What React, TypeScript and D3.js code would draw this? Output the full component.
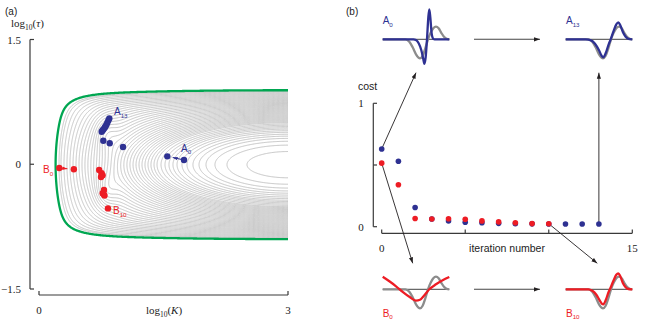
import React, { useMemo } from 'react';
import * as d3 from 'd3';

const W = 671;
const H = 328;

// ---------- Panel (a) data ----------
// left-most position (log10 K, at log10 tau ~ 0) of each grey cost contour
const contourVertexLogK = [
  2.506, 2.265, 2.12, 2.012, 1.928, 1.855, 1.783, 1.723, 1.663, 1.614, 1.566, 1.518,
  1.47, 1.422, 1.386, 1.349, 1.313, 1.277, 1.241, 1.205, 1.169, 1.133, 1.096, 1.06,
  1.024, 0.988, 0.952, 0.916, 0.88, 0.843, 0.807, 0.771, 0.735, 0.699, 0.663, 0.627,
  0.59, 0.554, 0.518, 0.482, 0.446, 0.41, 0.373, 0.337, 0.301, 0.265, 0.241,
];
// stability boundary (green): left-most log10 K, top and bottom log10 tau
const boundaryLeftLogK = 0.2;
const boundaryTopLogTau = 0.89;
const boundaryBottomLogTau = -0.9;
// valleys of the cost surface near the converged points
const valleyLogK = [0.79, 0.79];
const valleyLogTau = [0.42, -0.36];

// optimisation paths (log10 K, log10 tau)
const pathALogK = [1.747, 1.546, 1.012, 0.852, 0.775, 0.755, 0.765, 0.775, 0.789, 0.799, 0.811, 0.823, 0.835, 0.847];
const pathALogTau = [0.051, 0.095, 0.207, 0.252, 0.283, 0.391, 0.406, 0.418, 0.436, 0.454, 0.472, 0.5, 0.526, 0.55];
const pathBLogK = [0.244, 0.42, 0.725, 0.754, 0.766, 0.747, 0.783, 0.767, 0.789, 0.777, 0.831];
const pathBLogTau = [-0.045, -0.061, -0.069, -0.109, -0.133, -0.153, -0.309, -0.349, -0.376, -0.358, -0.531];

// ---------- Panel (b) data ----------
const costA = [0.63, 0.53, 0.155, 0.062, 0.046, 0.036, 0.033, 0.027, 0.024, 0.023, 0.022, 0.022, 0.022, 0.022];
const costB = [0.515, 0.34, 0.066, 0.063, 0.064, 0.06, 0.047, 0.039, 0.032, 0.025, 0.024];

// waveforms (t normalised 0..1, amplitude in arbitrary units)
const greyT = [0, 0.34, 0.4, 0.45, 0.5, 0.54, 0.56, 0.6, 0.64, 0.68, 0.72, 0.76, 0.8, 0.84, 0.88, 0.92, 0.96, 1];
const greyV = [0, 0, -2.5, -8, -15, -18.5, -19, -16.5, -9, 0, 6.5, 11, 12.6, 11, 6.5, 2.5, 0.5, 0];
const a0T = [0, 0.46, 0.5, 0.54, 0.58, 0.61, 0.625, 0.645, 0.665, 0.685, 0.7, 0.715, 0.735, 0.76, 0.78, 1];
const a0V = [0, 0, -0.8, -4, -11, -20, -24.5, -18, 0, 22, 30, 22, 6, 0.5, 0, 0];
const a13T = [0, 0.3, 0.38, 0.44, 0.5, 0.54, 0.565, 0.6, 0.64, 0.675, 0.72, 0.76, 0.79, 0.82, 0.86, 0.9, 0.94, 1];
const a13V = [0, 0, -1, -4.5, -11, -16.5, -18, -14, -6, 0, 8.5, 15, 17, 14, 7, 2.5, 0.5, 0];
const b0T = [0, 0.1, 0.2, 0.3, 0.4, 0.5, 0.56, 0.62, 0.7, 0.8, 0.9, 1];
const b0V = [12.5, 8, 3, -2.5, -7.5, -11.3, -10.5, -6.5, 0, 5, 9, 12.3];
const b10T = [0, 0.34, 0.4, 0.46, 0.51, 0.545, 0.565, 0.6, 0.64, 0.67, 0.72, 0.76, 0.79, 0.82, 0.86, 0.9, 0.94, 1];
const b10V = [0, 0, -1.5, -5.5, -11, -14.5, -15, -11, -3.5, 1, 9, 14.5, 16, 13, 6, 2, 0.3, 0];

const BLUE = '#2e3192';
const RED = '#ed1c24';
const GREEN = '#00a651';
const SANS = 'Liberation Sans, Arial, sans-serif';
const SERIF = 'Liberation Serif, Times New Roman, serif';

// ---- cost surface model ----
const CX = 3;
const A_W = CX - boundaryLeftLogK;
const VC = (boundaryTopLogTau + boundaryBottomLogTau) / 2;
const B_H = (boundaryTopLogTau - boundaryBottomLogTau) / 2;
function baseCost(u: number, v: number) {
  const X = Math.max(0, CX - u) / A_W;
  const Y = Math.abs(v - VC) / B_H;
  return 0.35 * (X * X + Y * Y) + 0.65 * (Math.pow(X, 10) + Math.pow(Y, 10));
}
function cost(u: number, v: number) {
  let f = baseCost(u, v);
  for (let k = 0; k < valleyLogK.length; k++) {
    const du = (u - valleyLogK[k]) / 0.1;
    const dv = (v - valleyLogTau[k]) / 0.16;
    f -= 0.06 * Math.exp(-0.5 * (du * du + dv * dv));
  }
  return f;
}

function Sub({ x, y, main, sub, color, size = 10, anchor = 'start' }: any) {
  return (
    <text x={x} y={y} fill={color} fontSize={size} fontFamily={SANS} textAnchor={anchor}>
      {main}
      <tspan fontSize={size * 0.62} dy={2.5}>{sub}</tspan>
    </text>
  );
}

export default function App() {
  const xK = d3.scaleLinear().domain([0, 3]).range([39, 288]);
  const yT = d3.scaleLinear().domain([-1.5, 1.5]).range([289, 39.5]);
  const xIt = d3.scaleLinear().domain([0, 15]).range([381.7, 632.3]);
  const yC = d3.scaleLinear().domain([0, 1]).range([226.7, 103.3]);

  const { greyPaths, greenPath } = useMemo(() => {
    const u0 = -0.05, du = 0.01, nu = 321;
    const v0 = -1.0, dv = 0.005, nv = 401;
    const values = new Float64Array(nu * nv);
    for (let j = 0; j < nv; j++) {
      const v = v0 + j * dv;
      for (let i = 0; i < nu; i++) values[j * nu + i] = -cost(u0 + i * du, v);
    }
    const gen = d3.contours().size([nu, nv]);
    const proj = d3.geoTransform({
      point(x: number, y: number) {
        (this as any).stream.point(xK(u0 + (x - 0.5) * du), yT(v0 + (y - 0.5) * dv));
      },
    });
    const path = d3.geoPath(proj);
    const greyPaths = contourVertexLogK.map((uk) => {
      const level = baseCost(uk, VC);
      return path(gen.contour(values as any, -level) as any) || '';
    });
    const greenPath = path(gen.contour(values as any, -1) as any) || '';
    return { greyPaths, greenPath };
  }, []);

  const wave = (T: number[], V: number[], x0: number, x1: number, y: number) => {
    const xs = d3.scaleLinear().domain([0, 1]).range([x0, x1]);
    const ys = d3.scaleLinear().domain([-30, 30]).range([y + 30, y - 30]);
    return d3
      .line<number>()
      .x((_, i) => xs(T[i]))
      .y((d) => ys(d))
      .curve(d3.curveMonotoneX)(V) as string;
  };

  const insets = {
    A0: { x0: 382.7, x1: 449.3, y: 39.3 },
    A13: { x0: 565.7, x1: 632.3, y: 39.3 },
    B0: { x0: 382.7, x1: 449.3, y: 289.3 },
    B10: { x0: 565.7, x1: 632.3, y: 289.3 },
  };

  const shorten = (x1: number, y1: number, x2: number, y2: number, d: number) => {
    const L = Math.hypot(x2 - x1, y2 - y1);
    return [x2 - ((x2 - x1) / L) * d, y2 - ((y2 - y1) / L) * d];
  };

  const aPts = pathALogK.map((u, i) => [xK(u), yT(pathALogTau[i])]);
  const bPts = pathBLogK.map((u, i) => [xK(u), yT(pathBLogTau[i])]);
  const aArrEnd = shorten(aPts[0][0], aPts[0][1], aPts[1][0], aPts[1][1], 5.5);
  const bArrEnd = shorten(bPts[0][0], bPts[0][1], bPts[1][0], bPts[1][1], 6.5);

  const axisCol = '#3a3a3a';
  const arrowCol = '#231f20';

  const last = costA.length - 1;
  const lastB = costB.length - 1;

  return (
    <svg width={W} height={H} style={{ position: 'absolute', left: 0, top: 0, background: '#fff' }}>
      <defs>
        <clipPath id="clipA">
          <rect x={0} y={0} width={xK(3)} height={H} />
        </clipPath>
        <marker id="ah" viewBox="0 0 10 10" refX="10" refY="5" markerWidth="6" markerHeight="6" markerUnits="userSpaceOnUse" orient="auto">
          <path d="M0,1.5L10,5L0,8.5z" fill={arrowCol} />
        </marker>
        <marker id="ahB" viewBox="0 0 10 10" refX="10" refY="5" markerWidth="5" markerHeight="5" markerUnits="userSpaceOnUse" orient="auto">
          <path d="M0,1.5L10,5L0,8.5z" fill={BLUE} />
        </marker>
        <marker id="ahR" viewBox="0 0 10 10" refX="10" refY="5" markerWidth="5" markerHeight="5" markerUnits="userSpaceOnUse" orient="auto">
          <path d="M0,1.5L10,5L0,8.5z" fill={RED} />
        </marker>
      </defs>

      {/* ---------------- Panel (a) ---------------- */}
      <text x={5} y={15} fontSize={10} fontFamily={SANS} fill="#222">(a)</text>
      <text x={11} y={27} fontSize={11} fontFamily={SERIF} fill="#222">
        log<tspan fontSize={7.5} dy={2.5}>10</tspan>
        <tspan dy={-2.5}>(</tspan>
        <tspan fontStyle="italic">τ</tspan>)
      </text>

      <g clipPath="url(#clipA)">
        {greyPaths.map((d, i) => (
          <path key={i} d={d} fill="none" stroke="#bababa" strokeWidth={0.85} />
        ))}
        <path d={greenPath} fill="none" stroke={GREEN} strokeWidth={2.3} />
      </g>

      {/* y axis */}
      <line x1={30} x2={30} y1={yT(1.5)} y2={yT(-1.5)} stroke={axisCol} strokeWidth={1.2} />
      {[1.5, 0, -1.5].map((t) => (
        <g key={t}>
          <line x1={30} x2={34} y1={yT(t)} y2={yT(t)} stroke={axisCol} strokeWidth={1.2} />
          <text x={21} y={yT(t) + 4} fontSize={11} fontFamily={SERIF} textAnchor="end" fill="#222">
            {t === 0 ? '0' : t > 0 ? '1.5' : '−1.5'}
          </text>
        </g>
      ))}
      {/* x axis */}
      <line x1={xK(0)} x2={xK(3)} y1={295} y2={295} stroke={axisCol} strokeWidth={1.2} />
      {[0, 3].map((t) => (
        <g key={t}>
          <line x1={xK(t)} x2={xK(t)} y1={295} y2={291} stroke={axisCol} strokeWidth={1.2} />
          <text x={xK(t)} y={314} fontSize={11} fontFamily={SERIF} textAnchor="middle" fill="#222">{t}</text>
        </g>
      ))}
      <text x={164} y={314} fontSize={11} fontFamily={SERIF} textAnchor="middle" fill="#222">
        log<tspan fontSize={7.5} dy={2.5}>10</tspan>
        <tspan dy={-2.5}>(</tspan>
        <tspan fontStyle="italic">K</tspan>)
      </text>

      {/* optimisation paths */}
      <line x1={aPts[0][0]} y1={aPts[0][1]} x2={aArrEnd[0]} y2={aArrEnd[1]} stroke={BLUE} strokeWidth={1.1} markerEnd="url(#ahB)" />
      <line x1={bPts[0][0]} y1={bPts[0][1]} x2={bArrEnd[0]} y2={bArrEnd[1]} stroke={RED} strokeWidth={1.1} markerEnd="url(#ahR)" />
      {aPts.map((p, i) => (
        <circle key={'a' + i} cx={p[0]} cy={p[1]} r={3.2} fill={BLUE} />
      ))}
      {bPts.map((p, i) => (
        <circle key={'b' + i} cx={p[0]} cy={p[1]} r={3.2} fill={RED} />
      ))}
      <Sub x={114} y={115} main="A" sub="13" color={BLUE} />
      <Sub x={181} y={151.5} main="A" sub="0" color={BLUE} />
      <Sub x={43} y={173} main="B" sub="0" color={RED} />
      <Sub x={113} y={214} main="B" sub="10" color={RED} />

      {/* ---------------- Panel (b) ---------------- */}
      <text x={346} y={15} fontSize={10} fontFamily={SANS} fill="#222">(b)</text>
      <text x={358} y={90} fontSize={10.5} fontFamily={SANS} fill="#222">cost</text>

      <line x1={373.3} x2={373.3} y1={yC(1)} y2={yC(0)} stroke={axisCol} strokeWidth={1.2} />
      {[1, 0.5, 0].map((t) => (
        <line key={t} x1={373.3} x2={377} y1={yC(t)} y2={yC(t)} stroke={axisCol} strokeWidth={1.2} />
      ))}
      {[1, 0].map((t) => (
        <text key={t} x={361} y={yC(t) + 4} fontSize={11} fontFamily={SERIF} textAnchor="middle" fill="#222">{t}</text>
      ))}
      <line x1={xIt(0)} x2={xIt(15)} y1={233.3} y2={233.3} stroke={axisCol} strokeWidth={1.2} />
      {[0, 5, 10, 15].map((t) => (
        <line key={t} x1={xIt(t)} x2={xIt(t)} y1={233.3} y2={229.5} stroke={axisCol} strokeWidth={1.2} />
      ))}
      {[0, 15].map((t) => (
        <text key={t} x={xIt(t)} y={252} fontSize={11} fontFamily={SERIF} textAnchor="middle" fill="#222">{t}</text>
      ))}
      <text x={507} y={252} fontSize={10.5} fontFamily={SANS} textAnchor="middle" fill="#222">iteration number</text>

      {/* arrows */}
      <line x1={xIt(0)} y1={yC(costA[0])} x2={416} y2={72.7} stroke={arrowCol} strokeWidth={0.9} markerEnd="url(#ah)" />
      <line x1={xIt(0)} y1={yC(costB[0])} x2={412.7} y2={263.3} stroke={arrowCol} strokeWidth={0.9} markerEnd="url(#ah)" />
      <line x1={xIt(lastB)} y1={yC(costB[lastB])} x2={597.3} y2={263.3} stroke={arrowCol} strokeWidth={0.9} markerEnd="url(#ah)" />
      <line x1={xIt(last)} y1={yC(costA[last])} x2={xIt(last)} y2={72.7} stroke={arrowCol} strokeWidth={0.9} markerEnd="url(#ah)" />
      <line x1={474} y1={39.3} x2={540} y2={39.3} stroke="#444" strokeWidth={1.1} markerEnd="url(#ah)" />
      <line x1={474} y1={289.3} x2={540} y2={289.3} stroke="#444" strokeWidth={1.1} markerEnd="url(#ah)" />

      {costA.map((c, i) => (
        <circle key={'ca' + i} cx={xIt(i)} cy={yC(c)} r={2.8} fill={BLUE} />
      ))}
      {costB.map((c, i) => (
        <circle key={'cb' + i} cx={xIt(i)} cy={yC(c)} r={2.8} fill={RED} />
      ))}

      {/* insets */}
      {(['A0', 'A13', 'B0', 'B10'] as const).map((k) => {
        const s = insets[k];
        return <line key={k} x1={s.x0} x2={s.x1} y1={s.y} y2={s.y} stroke="#111" strokeWidth={0.8} />;
      })}
      {(['A0', 'A13', 'B0', 'B10'] as const).map((k) => {
        const s = insets[k];
        return <path key={'g' + k} d={wave(greyT, greyV, s.x0, s.x1, s.y)} fill="none" stroke="#8c8c8c" strokeWidth={2.3} />;
      })}
      <path d={wave(a0T, a0V, insets.A0.x0, insets.A0.x1, insets.A0.y)} fill="none" stroke={BLUE} strokeWidth={2.3} />
      <path d={wave(a13T, a13V, insets.A13.x0, insets.A13.x1, insets.A13.y)} fill="none" stroke={BLUE} strokeWidth={2.3} />
      <path d={wave(b0T, b0V, insets.B0.x0, insets.B0.x1, insets.B0.y)} fill="none" stroke={RED} strokeWidth={2.3} />
      <path d={wave(b10T, b10V, insets.B10.x0, insets.B10.x1, insets.B10.y)} fill="none" stroke={RED} strokeWidth={2.3} />

      <Sub x={382.7} y={24} main="A" sub="0" color={BLUE} />
      <Sub x={566} y={24} main="A" sub="13" color={BLUE} />
      <Sub x={382.7} y={316.5} main="B" sub="0" color={RED} />
      <Sub x={566} y={316.5} main="B" sub="10" color={RED} />
    </svg>
  );
}
